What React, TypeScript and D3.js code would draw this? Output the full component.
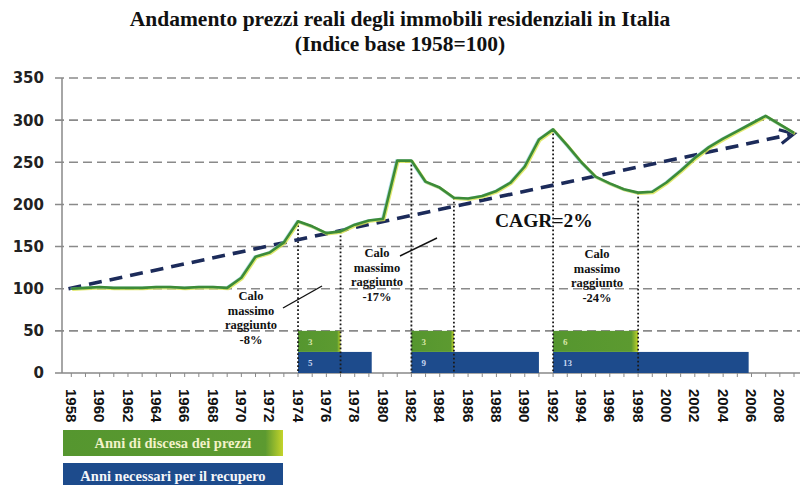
import React from "react";
import * as d3 from "d3";

const years: number[] = d3.range(1958, 2010);
const priceIndex: number[] = [
  100, 101, 102, 101, 101, 101, 102, 102, 101, 102, 102, 101,
  113, 138, 143, 155, 180, 174, 166, 168, 176, 181,
  183, 252, 252, 227, 220, 208, 207, 210, 216, 226,
  245, 277, 289, 270, 250, 233, 225, 218, 214, 215,
  226, 240, 255, 268, 278, 287, 296, 305, 295, 285,
];
const yTicks: number[] = [0, 50, 100, 150, 200, 250, 300, 350];
const xLabelYears: number[] = d3.range(1958, 2010, 2);
const markerYears: number[] = [1974, 1977, 1982, 1985, 1992, 1998];
const descentStart: number[] = [1974, 1982, 1992];
const descentEnd: number[] = [1977, 1985, 1998];
const descentLabels: string[] = ["3", "3", "6"];
const recoveryEnd: number[] = [1979.2, 1991, 2005.8];
const recoveryLabels: string[] = ["5", "9", "13"];
const trendStart: [number, number] = [1957.8, 100];
const trendEnd: [number, number] = [2009, 284];
const dropLabels: string[][] = [
  ["Calo", "massimo", "raggiunto", "-8%"],
  ["Calo", "massimo", "raggiunto", "-17%"],
  ["Calo", "massimo", "raggiunto", "-24%"],
];

const W = 800;
const H = 485;

export default function App() {
  const x = d3.scaleLinear().domain([1958, 2009]).range([71.3, 794]);
  const y = d3.scaleLinear().domain([0, 350]).range([373, 78]);
  const line = d3
    .line<number>()
    .x((_, i) => x(years[i]))
    .y((d) => y(d));
  const pathD = line(priceIndex) || "";

  const tx1 = x(trendStart[0]);
  const ty1 = y(trendStart[1]);
  const tx2 = x(trendEnd[0]);
  const ty2 = y(trendEnd[1]);
  const ang = (Math.atan2(ty2 - ty1, tx2 - tx1) * 180) / Math.PI;

  const serif = "'Liberation Serif', 'Times New Roman', serif";
  const navy = "#1c2b5a";
  const green = "#3d8b37";
  const barBlue = "#1d4b8c";

  const annPos = [
    { cx: 251, y0: 300 },
    { cx: 377, y0: 257 },
    { cx: 597, y0: 258 },
  ];

  return (
    <svg
      width={W}
      height={H}
      style={{ position: "absolute", left: 0, top: 0, background: "#fff" }}
      xmlns="http://www.w3.org/2000/svg"
    >
      <defs>
        <linearGradient id="gGreen" x1="0" x2="1" y1="0" y2="0">
          <stop offset="0%" stopColor="#55962f" />
          <stop offset="92%" stopColor="#5c9a30" />
          <stop offset="100%" stopColor="#c4d42a" />
        </linearGradient>
      </defs>

      {/* Title */}
      <text x={400} y={26} textAnchor="middle" fontFamily={serif} fontWeight="bold" fontSize={21.5} fill="#111">
        Andamento prezzi reali degli immobili residenziali in Italia
      </text>
      <text x={400} y={51} textAnchor="middle" fontFamily={serif} fontWeight="bold" fontSize={21.5} fill="#111">
        (Indice base 1958=100)
      </text>

      {/* gridlines */}
      {yTicks.filter((t) => t > 0).map((t) => (
        <line key={t} x1={55} x2={800} y1={y(t)} y2={y(t)} stroke="#8a8a8a" strokeWidth={1.6} strokeDasharray="9,5" />
      ))}

      {/* y axis */}
      <line x1={62} x2={62} y1={y(350)} y2={y(0)} stroke="#888" strokeWidth={1.5} />
      <line x1={55} x2={800} y1={y(0)} y2={y(0)} stroke="#888" strokeWidth={1.5} />
      {years.map((yr) => (
        <line key={yr} x1={x(yr)} x2={x(yr)} y1={y(0)} y2={y(0) + 4} stroke="#888" strokeWidth={1} />
      ))}
      {yTicks.map((t) => (
        <text key={t} x={44} y={y(t)} dy="0.36em" textAnchor="end" fontFamily="'DejaVu Sans', sans-serif" fontWeight="bold" fontSize={15} fill="#222">
          {t}
        </text>
      ))}

      {/* x labels */}
      {xLabelYears.map((yr) => (
        <text
          key={yr}
          transform={`translate(${x(yr)},389) rotate(90)`}
          dy="0.36em"
          textAnchor="start"
          fontFamily="'Liberation Sans', Arial, sans-serif"
          fontWeight="bold"
          fontSize={15}
          fill="#111"
        >
          {yr}
        </text>
      ))}

      {/* bars */}
      {descentStart.map((s, i) => (
        <g key={"b" + i}>
          <rect x={x(s)} y={y(25)} width={x(recoveryEnd[i]) - x(s)} height={y(0) - y(25)} fill={barBlue} />
          <rect x={x(s)} y={y(50)} width={x(descentEnd[i]) - x(s)} height={y(25) - y(50)} fill="url(#gGreen)" />
          <text x={x(s) + 10} y={y(37.5)} dy="0.36em" fontFamily={serif} fontWeight="bold" fontSize={9} fill="#d8e6a8">
            {descentLabels[i]}
          </text>
          <text x={x(s) + 10} y={y(12.5)} dy="0.36em" fontFamily={serif} fontWeight="bold" fontSize={9} fill="#c8d6f0">
            {recoveryLabels[i]}
          </text>
        </g>
      ))}

      {/* dotted markers */}
      {markerYears.map((yr) => (
        <line
          key={yr}
          x1={x(yr)}
          x2={x(yr)}
          y1={y(priceIndex[years.indexOf(yr)])}
          y2={y(0)}
          stroke="#1a1a1a"
          strokeWidth={1.8}
          strokeDasharray="1.8,2.2"
        />
      ))}

      {/* trend arrow */}
      <line x1={tx1} y1={ty1} x2={tx2 - 4} y2={ty2 + 1} stroke={navy} strokeWidth={3.6} strokeDasharray="13,8" />
      <path
        d="M-14,-7 L0,0 L-14,7"
        transform={`translate(${tx2},${ty2}) rotate(${ang})`}
        fill="none"
        stroke={navy}
        strokeWidth={3.2}
      />

      {/* price line */}
      <path d={pathD} fill="none" stroke="#d9e44c" strokeWidth={3} transform="translate(0.9,0.9)" opacity={0.8} />
      <path d={pathD} fill="none" stroke="#7cc8e0" strokeWidth={2.5} transform="translate(-0.9,0)" opacity={0.6} />
      <path d={pathD} fill="none" stroke={green} strokeWidth={2.6} strokeLinejoin="round" />

      {/* annotations */}
      {dropLabels.map((lines, i) => (
        <g key={"a" + i}>
          {lines.map((t, j) => (
            <text
              key={j}
              x={annPos[i].cx}
              y={annPos[i].y0 + j * 14.5}
              textAnchor="middle"
              fontFamily={serif}
              fontWeight="bold"
              fontSize={12.5}
              fill="#111"
            >
              {t}
            </text>
          ))}
        </g>
      ))}
      <line x1={283} y1={308} x2={322} y2={286} stroke="#111" strokeWidth={1.4} />
      <line x1={400} y1={256} x2={437} y2={238} stroke="#111" strokeWidth={1.4} />

      <text x={495} y={227} fontFamily={serif} fontWeight="bold" fontSize={19.5} fill="#111">
        CAGR=2%
      </text>

      {/* legend */}
      <rect x={63} y={430} width={220} height={26} fill="url(#gGreen)" />
      <text x={173} y={443} dy="0.36em" textAnchor="middle" fontFamily={serif} fontWeight="bold" fontSize={14.5} fill="#f2f2c8">
        Anni di discesa dei prezzi
      </text>
      <rect x={63} y={463} width={220} height={24} fill={barBlue} />
      <text x={173} y={476} dy="0.36em" textAnchor="middle" fontFamily={serif} fontWeight="bold" fontSize={14.5} fill="#f4f6fa">
        Anni necessari per il recupero
      </text>
    </svg>
  );
}
